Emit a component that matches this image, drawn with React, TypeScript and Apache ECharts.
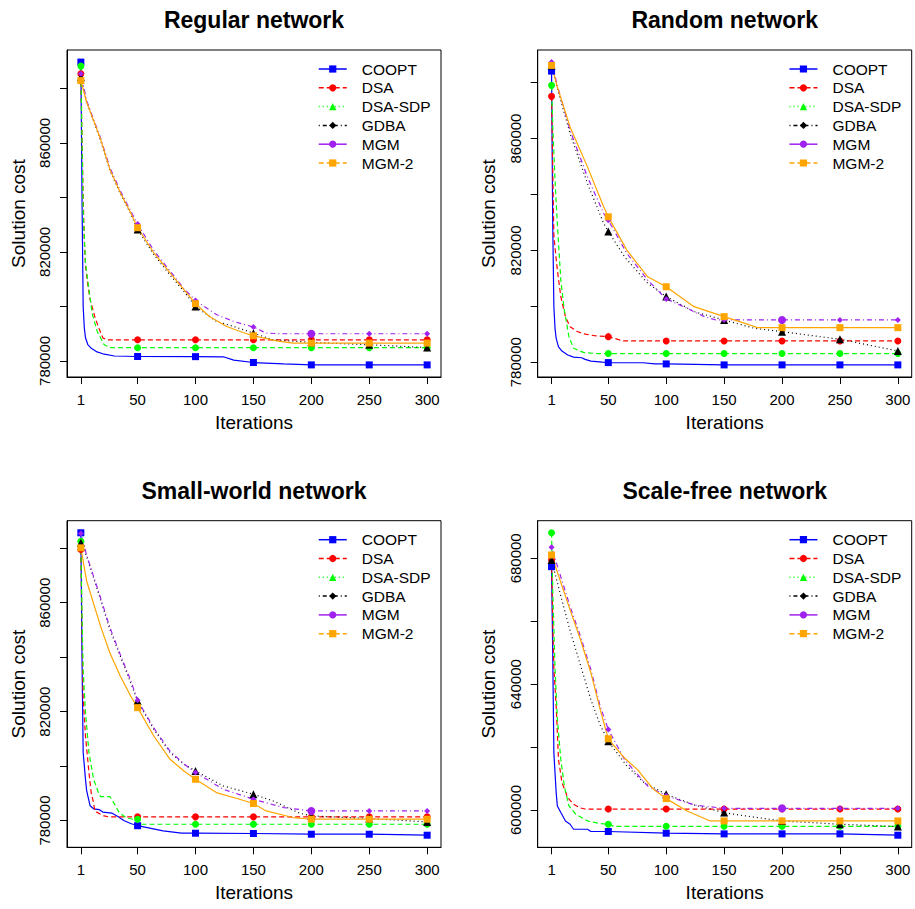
import React, { useEffect, useRef } from "react";
import * as echarts from "echarts";

const ITERATION_TICKS = [1, 50, 100, 150, 200, 250, 300];
const SERIES_NAMES = ["COOPT", "DSA", "DSA-SDP", "GDBA", "MGM", "MGM-2"];
const PANEL_TITLES = ["Regular network", "Random network", "Small-world network", "Scale-free network"];
const Y_TICKS_HIGH = [780000, 800000, 820000, 840000, 860000, 880000];
const Y_LABELS_HIGH = [780000, 820000, 860000];
const Y_TICKS_LOW = [600000, 620000, 640000, 660000, 680000];
const Y_LABELS_LOW = [600000, 640000, 680000];

// Regular network
const regCOOPT = [[1,889650],[2,840000],[3,800000],[4,792000],[5,788500],[7,786000],[10,784600],[15,783300],[20,782600],[30,781800],[50,781600],[100,781550],[124,781500],[133,780300],[150,779400],[176,778900],[200,778530],[250,778530],[300,778530]];
const regDSA = [[1,885340],[2,862000],[3,840000],[4,824000],[5,815000],[7,808000],[9,802500],[13,796300],[16,792600],[20,788400],[24,787740],[50,787740],[100,787740],[150,787740],[200,787740],[250,787740],[300,787740]];
const regDSASDP = [[1,888180],[2,860000],[3,835000],[5,816000],[8,806000],[11,797000],[15,791000],[18,788500],[21,786000],[26,784850],[50,784850],[100,784850],[150,784850],[200,784850],[250,784850],[300,784850]];
const regGDBA = [[1,884100],[6,875000],[18,861000],[26,850000],[35,841500],[44,834000],[50,828250],[64,819000],[78,811500],[90,805500],[100,800000],[118,794500],[133,792630],[150,790180],[167,787740],[200,786800],[250,785900],[300,784900]];
const regMGM = [[1,885340],[6,875500],[18,861800],[26,851000],[35,842500],[44,835000],[50,830200],[64,820500],[78,813000],[90,806500],[100,802200],[118,797000],[133,794470],[150,792400],[161,790200],[175,789950],[200,789950],[250,789950],[300,789950]];
const regMGM2 = [[1,882870],[6,874920],[18,861400],[26,850350],[35,841770],[44,834400],[50,828870],[64,819670],[78,812300],[90,806150],[100,801000],[112,796300],[127,792630],[141,790420],[150,789200],[170,787370],[184,786520],[200,786520],[250,786520],[300,786520]];

// Random network
const rndCOOPT = [[1,884140],[2,830000],[3,800000],[4,792000],[5,788500],[7,785500],[10,784000],[15,782600],[20,781800],[27,781600],[30,781000],[35,780400],[45,780000],[50,779860],[80,779800],[90,779420],[100,779390],[150,779040],[200,779040],[250,779040],[300,779040]];
const rndDSA = [[1,875110],[2,850000],[3,825000],[6,812960],[9,803430],[13,796290],[17,792710],[23,791000],[29,790110],[38,789480],[50,789140],[63,787600],[100,787600],[150,787600],[200,787600],[250,787600],[300,787600]];
const rndDSASDP = [[1,879040],[2,865000],[4,845000],[6,829640],[9,809390],[12,798680],[16,789140],[20,785000],[29,783430],[40,783100],[50,783100],[100,783100],[150,783100],[200,783100],[250,783100],[300,783100]];
const rndGDBA = [[1,886180],[6,878000],[17,861790],[32,843930],[46,829640],[50,826800],[64,817710],[84,808210],[100,803500],[124,798080],[150,795110],[176,792140],[200,790930],[250,788210],[300,784040]];
const rndMGM = [[1,887360],[6,879040],[17,862980],[32,846290],[46,833210],[50,830820],[66,818930],[84,809390],[100,802650],[118,799290],[133,796290],[143,795110],[150,795110],[200,795110],[250,795110],[300,795110]];
const rndMGM2 = [[1,886180],[6,878450],[17,864170],[32,849880],[46,835590],[50,832000],[66,820110],[84,810570],[100,807000],[124,799860],[150,796290],[172,793330],[179,792360],[200,792360],[250,792360],[300,792360]];

// Small-world network
const swCOOPT = [[1,885690],[2,840000],[3,805000],[5,795160],[6,791000],[9,785400],[12,784300],[17,784000],[20,783100],[28,782700],[33,781500],[38,780000],[44,778900],[50,778100],[72,776180],[88,775340],[100,775340],[150,775230],[200,774970],[250,774970],[300,774610]];
const swDSA = [[1,879560],[2,850000],[3,825000],[5,811050],[8,797610],[10,790000],[12,786500],[13,783500],[18,782310],[21,781690],[25,781350],[50,781350],[100,781350],[150,781350],[200,781350],[250,781350],[300,781350]];
const swDSASDP = [[1,882610],[2,855000],[3,835000],[5,819630],[8,804950],[12,795160],[16,790500],[18,788800],[26,788800],[29,786800],[34,783000],[40,781000],[46,780480],[50,780480],[53,778640],[100,778640],[150,778640],[200,778640],[250,778640],[300,778640]];
const swGDBA = [[1,882020],[6,877100],[18,861210],[26,850200],[35,840400],[44,830640],[50,823890],[64,813500],[78,804950],[90,800660],[100,798200],[124,792700],[150,789650],[167,787190],[190,782680],[200,781690],[250,780730],[300,779490]];
const swMGM = [[1,885430],[6,877500],[18,861800],[26,851000],[35,841000],[44,831500],[50,824140],[64,814000],[78,805500],[90,800800],[100,797610],[124,791490],[150,787820],[176,784770],[200,783520],[250,783520],[300,783520]];
const swMGM2 = [[1,880180],[6,868000],[18,851410],[26,841650],[35,833070],[44,825730],[50,821470],[64,811050],[78,802490],[90,798200],[100,795160],[118,790270],[138,787820],[150,786240],[161,783520],[184,781100],[200,780480],[250,780480],[300,780480]];

// Scale-free network
const sfCOOPT = [[1,677340],[2,650000],[3,618190],[5,605510],[6,601270],[9,599180],[13,596510],[17,595470],[20,593880],[32,593880],[35,593150],[50,593150],[100,592620],[150,592400],[200,592400],[250,592400],[300,591980]];
const sfDSA = [[1,679460],[2,660000],[3,645000],[5,632960],[6,624530],[7,616070],[10,608680],[15,603930],[20,601810],[26,600630],[30,600300],[50,600300],[100,600300],[150,600300],[200,600300],[250,600300],[300,600300]];
const sfDSASDP = [[1,688110],[2,670000],[4,645000],[6,629090],[9,616070],[12,607610],[16,601270],[22,598640],[32,596510],[43,595690],[50,595470],[55,594800],[100,594800],[150,594800],[200,594800],[250,594800],[300,594800]];
const sfGDBA = [[1,679460],[9,668000],[17,657000],[26,646000],[35,635000],[43,627000],[50,621870],[66,614000],[81,608680],[100,604980],[125,601500],[150,599180],[161,598500],[200,596510],[250,595470],[300,594740]];
const sfMGM = [[1,683490],[17,664660],[26,655150],[35,644600],[43,632960],[50,625580],[64,616070],[84,607610],[100,604500],[125,601500],[150,600540],[200,600540],[250,600540],[300,600540]];
const sfMGM2 = [[1,681050],[17,663610],[26,654110],[35,643550],[43,631920],[50,622630],[64,616500],[75,612900],[89,606560],[100,603610],[118,599680],[138,596510],[150,596510],[200,596510],[250,596510],[300,596510]];

const PANEL_DATA = [
  [regCOOPT, regDSA, regDSASDP, regGDBA, regMGM, regMGM2],
  [rndCOOPT, rndDSA, rndDSASDP, rndGDBA, rndMGM, rndMGM2],
  [swCOOPT, swDSA, swDSASDP, swGDBA, swMGM, swMGM2],
  [sfCOOPT, sfDSA, sfDSASDP, sfGDBA, sfMGM, sfMGM2],
];
const PANEL_Y_TICKS = [Y_TICKS_HIGH, Y_TICKS_HIGH, Y_TICKS_HIGH, Y_TICKS_LOW];
const PANEL_Y_LABELS = [Y_LABELS_HIGH, Y_LABELS_HIGH, Y_LABELS_HIGH, Y_LABELS_LOW];

const FONT = "Liberation Sans, Arial, Helvetica, sans-serif";

const STYLES: any[] = [
  { color: "#0000FF", symbol: "rect", plotDash: "solid", legendDash: "solid" },
  { color: "#FF0000", symbol: "circle", plotDash: [5, 3], legendDash: [5, 3] },
  { color: "#00FF00", symbol: "triangle", plotDash: [5, 3], legendDash: [1, 3] },
  { color: "#000000", symbol: "diamond", plotDash: [1, 3], legendDash: [1, 3, 4, 3] },
  { color: "#A020F0", symbol: "circle", plotDash: [1, 3, 5, 3], legendDash: "solid" },
  { color: "#FFA500", symbol: "rect", plotDash: "solid", legendDash: [5, 3] },
];

function plotMarker(si: number, x: number) {
  if (si === 0 || si === 5) return { symbol: "rect", symbolSize: 7 };
  if (si === 1 || si === 2) return { symbol: "circle", symbolSize: 7 };
  if (si === 3) return { symbol: "triangle", symbolSize: 8 };
  return x === 200 ? { symbol: "circle", symbolSize: 8 } : { symbol: "diamond", symbolSize: 6 };
}

const GRIDS = [
  { left: 67, top: 50, width: 374, height: 327 },
  { left: 537.7, top: 50, width: 374, height: 327 },
  { left: 67, top: 520.7, width: 374, height: 326.6 },
  { left: 537.7, top: 520.7, width: 374, height: 326.6 },
];

export default function App() {
  const ref = useRef<HTMLDivElement>(null);
  useEffect(() => {
    if (!ref.current) return;
    const chart = echarts.init(ref.current, null, { renderer: "svg" });
    const ext = (v: any) => v.max - v.min;
    const series: any[] = [];
    PANEL_DATA.forEach((panel, pi) => {
      panel.forEach((pts, si) => {
        const st = STYLES[si];
        series.push({
          type: "line",
          name: SERIES_NAMES[si],
          xAxisIndex: pi,
          yAxisIndex: pi,
          symbol: st.symbol,
          symbolSize: 7,
          showSymbol: true,
          showAllSymbol: true,
          lineStyle: { color: st.color, width: 1.2, type: st.plotDash },
          itemStyle: { color: st.color },
          emphasis: { disabled: true },
          data: pts.map(([x, y]) =>
            ITERATION_TICKS.includes(x)
              ? { value: [x, y], ...plotMarker(si, x) }
              : { value: [x, y], symbol: "none" }
          ),
        });
      });
    });
    const option: any = {
      animation: false,
      backgroundColor: "#fff",
      grid: GRIDS.map((g) => ({ ...g, show: true, borderColor: "#000", borderWidth: 1, backgroundColor: "transparent", containLabel: false, outerBoundsMode: "none" })),
      xAxis: GRIDS.map((_, pi) => ({
        type: "value",
        gridIndex: pi,
        min: (v: any) => v.min - 0.04 * ext(v),
        max: (v: any) => v.max + 0.04 * ext(v),
        axisLine: { show: true, onZero: false, lineStyle: { color: "#000", width: 1 } },
        axisTick: { show: true, inside: false, length: 7, customValues: ITERATION_TICKS, lineStyle: { color: "#000" } },
        axisLabel: { customValues: ITERATION_TICKS, margin: 15, color: "#000", fontSize: 15, fontFamily: FONT, formatter: (v: number) => String(v) },
        splitLine: { show: false },
        name: "Iterations",
        nameLocation: "middle",
        nameGap: 36,
        nameTextStyle: { fontSize: 19, color: "#000", fontFamily: FONT },
      })),
      yAxis: GRIDS.map((_, pi) => ({
        type: "value",
        gridIndex: pi,
        min: (v: any) => v.min - 0.04 * ext(v),
        max: (v: any) => v.max + 0.04 * ext(v),
        axisLine: { show: true, onZero: false, lineStyle: { color: "#000", width: 1 } },
        axisTick: { show: true, inside: false, length: 7, customValues: PANEL_Y_TICKS[pi], lineStyle: { color: "#000" } },
        axisLabel: { customValues: PANEL_Y_LABELS[pi], rotate: 90, margin: 15, color: "#000", fontSize: 15, fontFamily: FONT, formatter: (v: number) => String(v) },
        splitLine: { show: false },
        name: "Solution cost",
        nameLocation: "middle",
        nameGap: 39.5,
        nameTextStyle: { fontSize: 19, color: "#000", fontFamily: FONT },
      })),
      legend: GRIDS.map((g) => ({
        left: g.left + 251,
        top: g.top + 11,
        orient: "vertical",
        padding: 0,
        itemGap: 2.8,
        itemWidth: 28,
        itemHeight: 9,
        selectedMode: false,
        textStyle: { fontSize: 15.5, color: "#000", fontFamily: FONT, padding: [0, 0, 0, 10] },
        data: SERIES_NAMES.map((n, i) => ({ name: n, lineStyle: { type: STYLES[i].legendDash, width: 1.5 } })),
      })),
      graphic: GRIDS.map((g, pi) => ({
        type: "text",
        x: g.left + g.width / 2,
        y: g.top - 30,
        style: {
          text: PANEL_TITLES[pi],
          font: `bold 23px ${FONT}`,
          fill: "#000",
          textAlign: "center",
          textVerticalAlign: "middle",
          verticalAlign: "middle",
        },
      })),
      series,
    };
    chart.setOption(option);
    return () => chart.dispose();
  }, []);
  return <div ref={ref} style={{ position: "fixed", left: 0, top: 0, width: 915, height: 909 }} />;
}
